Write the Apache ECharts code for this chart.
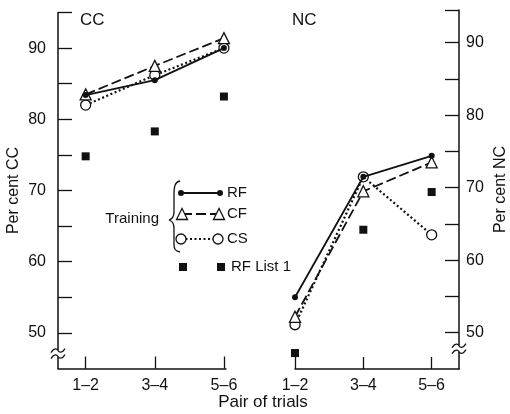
<!DOCTYPE html>
<html>
<head>
<meta charset="utf-8">
<script src="https://cdn.jsdelivr.net/npm/echarts@6/dist/echarts.min.js"></script>
<style>
html,body{margin:0;padding:0;background:#fff;}
#chart{width:510px;height:414px;}
</style>
</head>
<body>
<div id="chart"></div>
<script>
// ---- data ----
var categories = ['1–2', '3–4', '5–6'];
var xPos = [1, 2, 3];
var yTicks = [50, 55, 60, 65, 70, 75, 80, 85, 90];
var yLabels = [50, 60, 70, 80, 90];

var ccRF    = [83.4, 85.5, 90.0];
var ccCF    = [83.5, 87.5, 91.4];
var ccCS    = [82.0, 86.2, 90.0];
var ccList1 = [74.8, 78.3, 83.2];

var ncRF    = [54.9, 71.5, 74.4];
var ncCF    = [52.2, 69.5, 73.5];
var ncCS    = [51.1, 71.5, 63.5];
var ncList1 = [47.2, 64.2, 69.4];

var FONT = '"Liberation Sans", Arial, sans-serif';
var INK = '#111';

function pairs(vals) { return vals.map(function (v, i) { return [xPos[i], v]; }); }

var chart = echarts.init(document.getElementById('chart'), null, {renderer: 'canvas'});

function xAxisCfg(grid, min, max) {
  return {
    gridIndex: grid, type: 'value', min: min, max: max,
    axisLine: {show: true, onZero: false, lineStyle: {color: INK, width: 1.5}},
    axisTick: {show: true, inside: true, length: 12, customValues: xPos, lineStyle: {color: INK, width: 1.3}},
    axisLabel: {customValues: xPos, color: INK, fontFamily: FONT, fontSize: 16, margin: 9,
      formatter: function (v) { var i = Math.round(v) - 1; return Math.abs(v - Math.round(v)) < 1e-6 && categories[i] ? categories[i] : ''; }},
    splitLine: {show: false}
  };
}
function yAxisCfg(grid, pos, max, name, gap, margin) {
  return {
    gridIndex: grid, type: 'value', position: pos, min: 45, max: max,
    name: name, nameLocation: 'middle', nameGap: gap, nameRotate: 90,
    nameTextStyle: {color: INK, fontFamily: FONT, fontSize: 16},
    axisLine: {show: true, onZero: false, lineStyle: {color: INK, width: 1.5}},
    axisTick: {show: true, inside: true, length: 14, customValues: yTicks.concat([max]), lineStyle: {color: INK, width: 1.3}},
    axisLabel: {customValues: yLabels, color: INK, fontFamily: FONT, fontSize: 16, margin: margin},
    splitLine: {show: false}
  };
}

function panelSeries(xi, rf, cf, cs, l1) {
  return [
    {type: 'line', xAxisIndex: xi, yAxisIndex: xi, data: pairs(cs), z: 2,
      symbol: 'circle', symbolSize: 10, lineStyle: {color: INK, width: 2.2, type: [2, 2.5]},
      itemStyle: {color: '#fff', borderColor: INK, borderWidth: 1.3}, animation: false},
    {type: 'line', xAxisIndex: xi, yAxisIndex: xi, data: pairs(cf), z: 3,
      symbol: 'triangle', symbolSize: 11, lineStyle: {color: INK, width: 1.8, type: [10, 4]},
      itemStyle: {color: '#fff', borderColor: INK, borderWidth: 1.3}, animation: false},
    {type: 'line', xAxisIndex: xi, yAxisIndex: xi, data: pairs(rf), z: 4,
      symbol: 'circle', symbolSize: 6, lineStyle: {color: INK, width: 1.8},
      itemStyle: {color: INK, borderColor: INK, borderWidth: 0}, animation: false},
    {type: 'scatter', xAxisIndex: xi, yAxisIndex: xi, data: pairs(l1), z: 4,
      symbol: 'rect', symbolSize: 8, itemStyle: {color: INK, opacity: 1}, animation: false}
  ];
}

var option = {
  backgroundColor: '#fff',
  animation: false,
  grid: [
    {left: 58, top: 12.5, width: 168, height: 356},
    {left: 295, top: 10, width: 169, height: 359}
  ],
  xAxis: [xAxisCfg(0, 0.6, 3.03), xAxisCfg(1, 1, 3.4)],
  yAxis: [yAxisCfg(0, 'left', 95, 'Per cent CC', 36, 12), yAxisCfg(1, 'right', 94.5, 'Per cent NC', 34, 7)],
  series: panelSeries(0, ccRF, ccCF, ccCS, ccList1).concat(panelSeries(1, ncRF, ncCF, ncCS, ncList1))
};
chart.setOption(option);

// ---- decorations: titles, legend, axis breaks ----
var txt = function (x, y, s, size, align) {
  return {type: 'text', x: x, y: y, style: {text: s, fill: INK, font: size + 'px ' + FONT, textAlign: align || 'left', textVerticalAlign: 'middle'}, z: 10};
};
function bez(ox, oy, a, z) {
  return {type: 'bezierCurve', x: ox, y: oy,
    shape: {x1: a[0], y1: a[1], cpx1: a[2], cpy1: a[3], cpx2: a[4], cpy2: a[5], x2: a[6], y2: a[7]},
    style: {stroke: INK, lineWidth: 1.3, fill: null}, z: z || 10};
}
function seg(x1, y1, x2, y2, extra) {
  var st = {stroke: INK, lineWidth: 1.3};
  if (extra) { for (var k in extra) st[k] = extra[k]; }
  return {type: 'line', shape: {x1: x1, y1: y1, x2: x2, y2: y2}, style: st, z: 10};
}
var g = [];
g.push(txt(80, 20, 'CC', 17));
g.push(txt(292, 20, 'NC', 17));
g.push(txt(263, 402, 'Pair of trials', 17, 'center'));

// legend
g.push(txt(159, 219, 'Training', 15, 'right'));
g.push(bez(0, 0, [180, 181, 175, 182, 174, 186, 174, 195]));
g.push(seg(174, 195, 174, 212));
g.push(bez(0, 0, [174, 212, 174, 217, 172, 219, 169, 220]));
g.push(bez(0, 0, [169, 220, 172, 221, 174, 223, 174, 228]));
g.push(seg(174, 228, 174, 244));
g.push(bez(0, 0, [174, 244, 174, 249, 175, 251, 180, 252]));
// RF row
g.push(seg(181, 193, 220, 193, {lineWidth: 1.8}));
g.push({type: 'circle', shape: {cx: 181, cy: 193, r: 3}, style: {fill: INK}, z: 11});
g.push({type: 'circle', shape: {cx: 220, cy: 193, r: 3}, style: {fill: INK}, z: 11});
g.push(txt(227, 193, 'RF', 15));
// CF row
g.push(seg(182, 214, 219, 214, {lineWidth: 1.8, lineDash: [10, 4]}));
[182, 219].forEach(function (x) {
  g.push({type: 'polygon', shape: {points: [[x, 208.5], [x - 5.5, 219.5], [x + 5.5, 219.5]]}, style: {fill: '#fff', stroke: INK, lineWidth: 1.3}, z: 11});
});
g.push(txt(227, 214, 'CF', 15));
// CS row
g.push(seg(181, 239, 218, 239, {lineWidth: 2.2, lineDash: [2, 2.5]}));
[181, 218].forEach(function (x) {
  g.push({type: 'circle', shape: {cx: x, cy: 239, r: 5}, style: {fill: '#fff', stroke: INK, lineWidth: 1.3}, z: 11});
});
g.push(txt(227, 239, 'CS', 15));
// RF List 1 row
[183, 221].forEach(function (x) {
  g.push({type: 'rect', shape: {x: x - 4, y: 263, width: 8, height: 8}, style: {fill: INK}, z: 11});
});
g.push(txt(231, 267, 'RF List 1', 15));

// axis breaks
function brk(p) {
  g.push({type: 'rect', shape: {x: p[0] - 2, y: p[1] - 3, width: 4, height: 6}, style: {fill: '#fff'}, z: 12});
  g.push(bez(p[0], p[1], [-7, -1, -4, -6, -1, -5, 0, -3], 13));
  g.push(bez(p[0], p[1], [0, -3, 1, -1, 4, 0, 7, -5], 13));
  g.push(bez(p[0], p[1], [-7, 5, -4, 0, -1, 1, 0, 3], 13));
  g.push(bez(p[0], p[1], [0, 3, 1, 5, 4, 6, 7, 1], 13));
}
var pL = chart.convertToPixel({xAxisIndex: 0, yAxisIndex: 0}, [0.6, 47.1]);
var pR = chart.convertToPixel({xAxisIndex: 1, yAxisIndex: 1}, [3.4, 47.8]);
brk(pL); brk(pR);

chart.setOption({graphic: g});
</script>
</body>
</html>
